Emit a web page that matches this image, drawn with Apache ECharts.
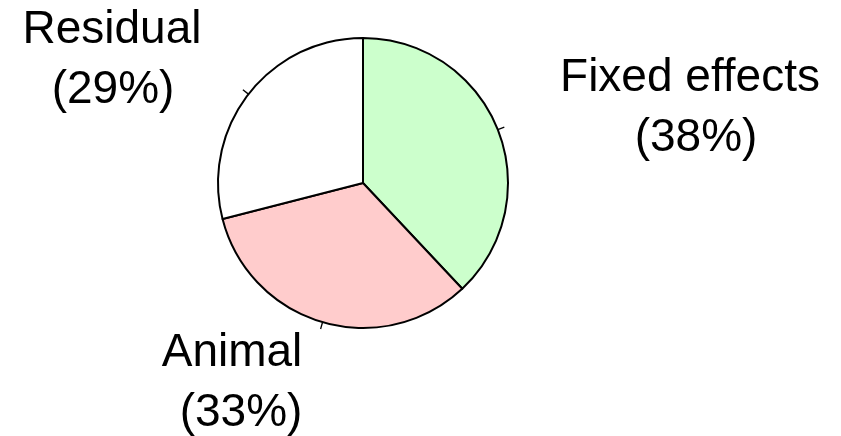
<!DOCTYPE html>
<html>
<head>
<meta charset="utf-8">
<script src="https://cdn.jsdelivr.net/npm/echarts@6/dist/echarts.min.js"></script>
<style>
  html, body { margin: 0; padding: 0; background: #ffffff; }
  #chart { width: 841px; height: 436px; }
</style>
</head>
<body>
<div id="chart"></div>
<script>
// Variance components, in percent
const components = ['Fixed effects', 'Animal', 'Residual'];
const shares = [38, 33, 29];
const fills = ['#ccffcc', '#ffcccc', '#ffffff'];

// Where each two-line caption sits (centre of the text block) and how far
// the percentage line is nudged right of the name line
const captionSpots = [
  { x: 690, y: 108, nudge: 12 },
  { x: 232, y: 383, nudge: 18 },
  { x: 112, y: 60, nudge: 2 }
];

const textFont = 'Liberation Sans, Arial, sans-serif';

const data = components.map((name, i) => ({
  name: name,
  value: shares[i],
  itemStyle: { color: fills[i] },
  label: {
    rich: {
      pct: { padding: [0, 0, 0, captionSpots[i].nudge] }
    }
  }
}));

const chart = echarts.init(document.getElementById('chart'), null, { renderer: 'canvas' });

const center = [363, 183];
const radius = 145;

chart.setOption({
  backgroundColor: '#ffffff',
  animation: false,
  series: [
    {
      // filled slices with captions
      type: 'pie',
      center: center,
      radius: radius,
      startAngle: 90,
      clockwise: true,
      avoidLabelOverlap: false,
      silent: true,
      itemStyle: { borderColor: '#000000', borderWidth: 2 },
      label: {
        show: true,
        formatter: p => '{nm|' + p.name + '}\n{pct|(' + p.value + '%)}',
        fontFamily: textFont,
        fontSize: 46,
        lineHeight: 60,
        color: '#000000',
        align: 'center',
        rich: {
          nm: { fontFamily: textFont, fontSize: 46, lineHeight: 60, color: '#000000' },
          pct: { fontFamily: textFont, fontSize: 46, lineHeight: 60, color: '#000000' }
        }
      },
      labelLine: { show: false },
      labelLayout: function (params) {
        const spot = captionSpots[params.dataIndex];
        return { x: spot.x, y: spot.y, align: 'center', verticalAlign: 'middle' };
      },
      data: data
    },
    {
      // short tick marks at each slice's mid-angle
      type: 'pie',
      center: center,
      radius: radius,
      startAngle: 90,
      clockwise: true,
      avoidLabelOverlap: false,
      silent: true,
      itemStyle: { color: 'rgba(0,0,0,0)', borderWidth: 0 },
      label: { show: true, formatter: ' ', fontSize: 1 },
      labelLine: {
        show: true,
        length: 7,
        length2: 0,
        smooth: false,
        lineStyle: { color: '#000000', width: 1.3 }
      },
      data: components.map((name, i) => ({ name: name, value: shares[i] }))
    }
  ]
});
</script>
</body>
</html>
